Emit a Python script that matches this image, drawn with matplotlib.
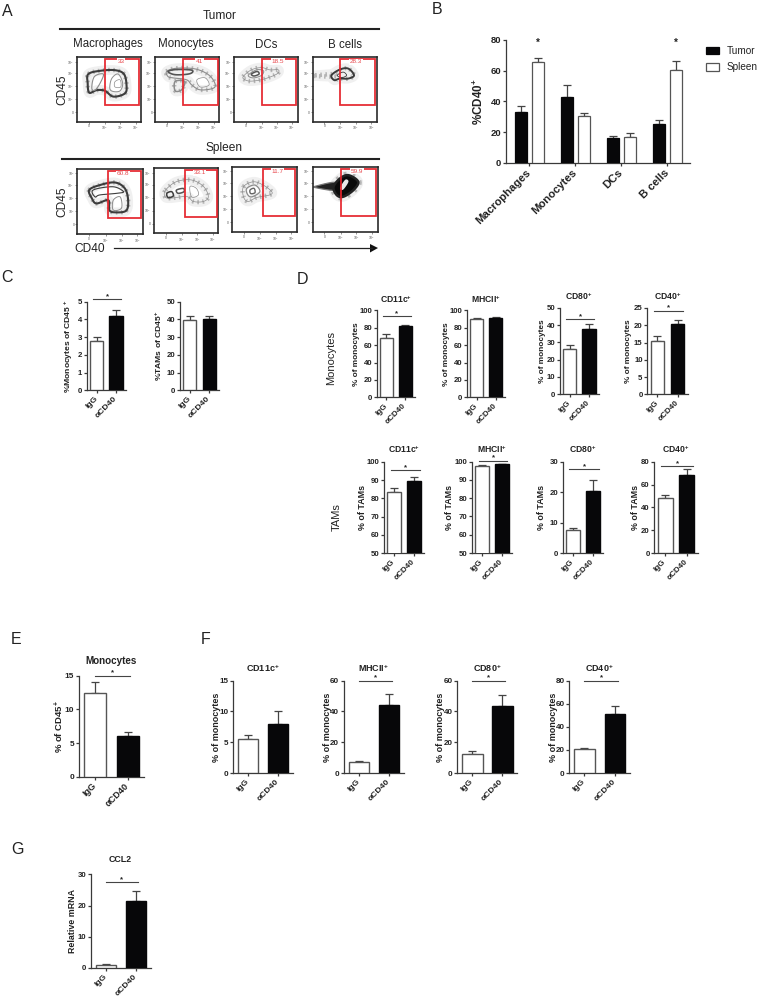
import matplotlib
matplotlib.use("Agg")
import matplotlib.pyplot as plt
from matplotlib.patches import Rectangle, Polygon
import numpy as np

plt.rcParams['font.family'] = ['Liberation Sans', 'DejaVu Sans']
plt.rcParams['mathtext.fontset'] = 'custom'
plt.rcParams['mathtext.rm'] = 'Liberation Sans'
plt.rcParams['mathtext.bf'] = 'Liberation Sans:bold'
plt.rcParams['mathtext.it'] = 'Liberation Sans:italic'

W, H = 757, 1000
fig = plt.figure(figsize=(W/100, H/100), dpi=100, facecolor='white')
AX = '#3a3a3a'
DARK = '#070709'
RED = '#e5232b'
TXT = '#222222'

# ---------- data ----------
groups = ['Macrophages', 'Monocytes', 'DCs', 'B cells']
tumor_vals = [33, 43, 16, 25.5]
tumor_tops = [37, 50.5, 17.5, 28]
spleen_vals = [65.5, 30.5, 16.5, 60.5]
spleen_tops = [68, 32.5, 19.5, 66.5]
pair = ['IgG', '\u03b1CD40']

c_mono = ([2.8, 4.2], [3.0, 4.55])
c_tam = ([39.5, 40], [41.7, 42])
d_mono_cd11c = ([68, 81.5], [72.5, 83.5])
d_mono_mhc = ([90, 91.5], [91.5, 92.5])
d_mono_cd80 = ([26, 37.8], [28.5, 40.5])
d_mono_cd40 = ([15.5, 20.5], [16.8, 21.6])
d_tam_cd11c = ([83.3, 89.5], [85.8, 91.5])
d_tam_mhc = ([97.8, 98.5], [98.3, 99])
d_tam_cd80 = ([7.7, 20.3], [8.2, 24])
d_tam_cd40 = ([48.5, 68.5], [51, 73.5])
e_mono = ([12.5, 6], [14, 6.7])
f_cd11c = ([5.6, 7.9], [6.1, 10])
f_mhc = ([7.3, 44.5], [8, 51.5])
f_cd80 = ([12.5, 43.7], [14, 51])
f_cd40 = ([20.5, 51.5], [21.5, 58])
g_ccl2 = ([1, 21.5], [1.2, 24.5])

gate_labels_tumor = ['33', '41', '18.5', '28.3']
gate_labels_spleen = ['60.8', '33.1', '11.7', '59.9']

# contour outlines in percent of each flow plot: (points, colour, width)
GR = '#8c8c8c'; DG = '#3c3c3c'
t1_outer = [(17.6,74),(35.8,79),(59,80),(73,74),(77,57),(74.6,44),(56.5,39),(43.5,48),(30.6,49),(19,45),(16.6,60)]
t1_left = [(23,52),(27,70),(41,74),(36,60),(28,49)]
t1_right = [(51,52),(54,67),(64,74),(71,60),(67,48),(56,47)]
t1_core = [(59,62),(67,65),(68,54),(59,54)]
t2_band = [(17.7,78),(33,83),(62,82),(83,73),(93,60),(90.6,52),(70,49.5),(57,57),(49,65),(28,68),(20,70)]
t2_lobe = [(31,62.5),(46,62.5),(41,49.5),(31,48)]
t2_dark = [(20,78),(33,81),(57,80),(54,74.5),(31,73)]
t2_right = [(65,65),(78,68),(84,57),(70,54)]
t3_outer = [(14,70),(27,80.5),(43,84),(56,80.5),(69.5,80.5),(67,74),(46,66),(27,63),(17,65)]
t3_mid = [(22,72),(35,80.5),(46,79),(43,72),(30,68)]
t3_core = [(27,74),(36,78),(39,74),(31,71)]
t4_outer = [(29,72),(42,81),(55,82.5),(64,72),(55,67),(42,67),(33.5,64.5)]
t4_core = [(38,72),(47,77),(52.5,72),(45,68.5)]
t4_streak = [(4,72),(35,74),(35,70),(4,71)]
s1_outer = [(18,67.5),(34,75),(57,79),(72,70),(77,52),(74,36),(57,33.5),(48.5,37),(47,52),(29,47),(22,55)]
s1_mid = [(24,67.5),(54,72.5),(70,65),(60,62.5),(34,60),(27,57)]
s1_low = [(54.5,52),(65,57),(67,40),(54.5,37)]
s2_outer = [(18,66.5),(35,79.5),(58.5,82),(77,72),(84.5,56.5),(77,49),(61,49),(51,56.5),(25,54),(17,56.5)]
s2_a = [(20,61.5),(27.5,64),(30,57.5),(22,55)]
s2_b = [(35,66.5),(45.5,69),(46.5,64),(37.5,61.5)]
s2_c = [(56,72),(66,69),(69,59),(58.5,56)]
s3_outer = [(18,69.5),(33,77),(48,72),(61,62),(58,57),(38,53),(25,47),(18,54)]
s3_mid = [(23,67),(35.5,72),(43,62),(30.5,54),(24,58)]
s3_core = [(28,64.5),(34,67),(35.5,60.5),(29,59)]
s4_outer = [(32,69),(42,82),(55,87),(70,77),(62.5,64),(47,54),(37,56.5)]
s4_eye = [(42,67),(50,80),(55,77),(47,65)]
s4_streak = [(4,70),(34,76),(34,64),(4,68)]

flow_tumor = [
    [(t1_outer, DG, 1.5), (t1_left, GR, .8), (t1_right, GR, .7), (t1_core, GR, .5)],
    [(t2_band, GR, .8), (t2_lobe, GR, 1.1), (t2_dark, '#555555', 1.2), (t2_right, GR, .5)],
    [(t3_outer, GR, .5), (t3_mid, GR, .7), (t3_core, '#555555', 1.1)],
    [(t4_outer, DG, 1.4), (t4_core, DG, .6)],
]
flow_spleen = [
    [(s1_outer, DG, 1.5), (s1_mid, DG, .8), (s1_low, GR, .7)],
    [(s2_outer, GR, .5), (s2_a, DG, 1.1), (s2_b, '#555555', 1.1), (s2_c, GR, .5)],
    [(s3_outer, GR, .5), (s3_mid, GR, .9), (s3_core, '#666666', 1.0)],
    [],
]
halos_tumor = [[t1_outer], [t2_band, t2_lobe], [t3_outer], [t4_outer, t4_streak]]
halos_spleen = [[s1_outer], [s2_outer], [s3_outer], [s4_outer]]

def px_ax(x0, x1, ybot, ytop):
    return fig.add_axes([x0/W, 1-ybot/H, (x1-x0)/W, (ybot-ytop)/H])

def ftext(x, y, s, **kw):
    kw.setdefault('ha', 'center'); kw.setdefault('va', 'center'); kw.setdefault('color', TXT)
    return fig.text(x/W, 1-y/H, s, **kw)

def smooth(pts, n=8):
    """Closed Catmull-Rom curve through the traced outline points."""
    p = np.asarray(pts, float)
    out = []
    m = len(p)
    for i in range(m):
        a, b, c, d = p[(i-1) % m], p[i], p[(i+1) % m], p[(i+2) % m]
        for t in np.linspace(0, 1, n, endpoint=False):
            out.append(.5*((2*b) + (c-a)*t + (2*a-5*b+4*c-d)*t*t + (3*b-a-3*c+d)*t**3))
    return np.array(out)

def flow(box, gate, contours, halos, label, black=False):
    x0, x1, yb, yt = box
    ax = px_ax(x0, x1, yb, yt)
    ax.set_xlim(0, 100); ax.set_ylim(0, 100)
    for s in ax.spines.values():
        s.set_linewidth(1.2); s.set_color('#2a2a2a')
    ax.set_xticks([18, 43, 67, 91]); ax.set_yticks([15, 35, 55, 75, 93])
    ax.set_xticklabels(['0', '10$^3$', '10$^4$', '10$^5$'], fontsize=2.4, color='#555555')
    ax.set_yticklabels(['0', '10$^2$', '10$^3$', '10$^4$', '10$^5$'], fontsize=2.4, color='#555555')
    ax.tick_params(length=1.2, width=.4, pad=.8, color='#444444')
    for h in halos:
        ax.add_patch(Polygon(smooth(h), closed=True, fill=False, ec='#f0f0f0', lw=7, zorder=1))
        ax.add_patch(Polygon(smooth(h), closed=True, fill=False, ec='#b5b5b5', lw=3.2 if not black else 5, ls=(0, (.35, .8)), zorder=1))
    if black:
        ax.add_patch(Polygon(smooth(s4_streak), closed=True, fc='#222222', ec='#777777', lw=.9, zorder=2))
        ax.add_patch(Polygon(smooth(s4_outer), closed=True, fc='#0a0a0a', ec='#222222', lw=1.8, zorder=2))
        ax.add_patch(Polygon(smooth(s4_eye), closed=True, fc='#e8e8e8', ec='none', zorder=3))
    for pts, col, lw in contours:
        ax.add_patch(Polygon(smooth(pts), closed=True, fill=False, ec=col, lw=lw, zorder=3))
    gx0, gx1, gy0, gy1 = gate
    ax.add_patch(Rectangle((gx0, gy0), gx1-gx0, gy1-gy0, fill=False, ec=RED, lw=1.3, zorder=5, alpha=.95))
    ax.text((gx0+gx1)/2 - 2, gy1-4, label, color='#e8474c', fontsize=4.6, ha='center', va='center', zorder=6,
            bbox=dict(fc='white', ec='none', pad=.4))

tumor_boxes = [(77,141.3,121.7,57.3), (155.3,219.3,121.7,57.3), (234.3,297.7,121.7,57.3), (312.7,377.3,121.7,57.3)]
tumor_gates = [(44,97,26,98), (44,98,26,98), (44,98,26,98), (42,96,26,97)]
spleen_boxes = [(77.3,143.3,234.3,168.7), (154,218.3,233.3,168.3), (231.7,297.3,232.3,166.7), (312.7,377.7,232,166.7)]
spleen_gates = [(46,97,25,96), (48,98,25,97), (47,97,25,97), (43,97,24,97)]

for i in range(4):
    flow(tumor_boxes[i], tumor_gates[i], flow_tumor[i], halos_tumor[i], gate_labels_tumor[i])
    flow(spleen_boxes[i], spleen_gates[i], flow_spleen[i], halos_spleen[i], gate_labels_spleen[i], black=(i == 3))

# figure-level decoration for panel A
fig.add_artist(plt.Line2D([60/W, 379/W], [1-29/H, 1-29/H], color='#222222', lw=1.5))
fig.add_artist(plt.Line2D([62/W, 379/W], [1-159/H, 1-159/H], color='#222222', lw=1.5))
ftext(220, 16, 'Tumor', fontsize=8.6)
ftext(224.5, 148.5, 'Spleen', fontsize=8.6)
for x, s in zip([108, 186, 266, 344.5], groups):
    ftext(x, 44.5, s, fontsize=8.3)
ftext(62, 90, 'CD45', fontsize=8.6, rotation=90)
ftext(62, 202, 'CD45', fontsize=8.6, rotation=90)
ftext(89.5, 249.5, 'CD40', fontsize=8.6)
fig.add_artist(plt.Line2D([114/W, 372/W], [1-248/H, 1-248/H], color='#222222', lw=.9))
fig.add_artist(Polygon([[370/W, 1-244/H], [378/W, 1-248/H], [370/W, 1-252.5/H]], closed=True, fc='#111111', ec='none', transform=fig.transFigure))

for (x, y, s) in [(7, 11, 'A'), (437, 10, 'B'), (7, 278, 'C'), (302, 280, 'D'), (16, 639, 'E'), (206, 639, 'F'), (17, 850, 'G')]:
    ftext(x, y, s, fontsize=11.5)
ftext(331, 358, 'Monocytes', fontsize=8, rotation=90)
ftext(337, 517, 'TAMs', fontsize=8, rotation=90)

def style(ax, ticks, fs, lw=.9):
    for s in ['top', 'right']:
        ax.spines[s].set_visible(False)
    for s in ['left', 'bottom']:
        ax.spines[s].set_linewidth(lw); ax.spines[s].set_color(AX)
    ax.set_yticks(ticks)
    ax.tick_params(axis='both', length=2.2, width=lw, color=AX, pad=1.2, labelsize=fs)
    for t in ax.get_yticklabels():
        t.set_fontweight('bold'); t.set_color(TXT)

def pair_panel(box, data, ylim, ticks, ylabel, label_x, sig=None, sig_x=(-.17, 1.28), fs=5.6, lfs=5.95, xfs=5.9):
    x0, x1, yb, yt = box
    ax = px_ax(x0, x1, yb, yt)
    ax.patch.set_alpha(0)
    vals, tops = data
    ax.set_xlim(-.5, 1.5); ax.set_ylim(*ylim)
    err = [np.zeros(2), np.array(tops)-np.array(vals)]
    ax.bar([0, 1], vals, width=.68, color=['white', DARK], edgecolor=['#555555', DARK], linewidth=1.0, zorder=3)
    ax.errorbar([0, 1], vals, yerr=err, fmt='none', ecolor='#444444', elinewidth=.9, capsize=2.8, capthick=.9, zorder=2)
    style(ax, ticks, fs)
    ax.set_xticks([0, 1])
    ax.set_xticklabels(pair, rotation=45, ha='right', va='center', rotation_mode='anchor', fontsize=xfs, fontweight='bold', color=TXT)
    ax.tick_params(axis='x', pad=3.2)
    ax.set_ylabel(ylabel, fontsize=lfs, fontweight='bold', color=TXT, va='center')
    ax.yaxis.set_label_coords((label_x-x0)/(x1-x0), .5)
    if sig is not None:
        ax.plot(sig_x, [sig, sig], color='#444444', lw=.8, clip_on=False, zorder=4)
        ax.annotate('*', xy=(sum(sig_x)/2, sig), xytext=(0, -.6), textcoords='offset points', ha='center', va='bottom',
                    fontsize=5.6, fontweight='bold', color=TXT, annotation_clip=False)
    return ax

# ---------- B ----------
axb = px_ax(506, 690, 162.7, 40)
x = np.arange(4)
axb.set_xlim(-.51, 3.49); axb.set_ylim(0, 80)
axb.bar(x-.185, tumor_vals, width=.26, color=DARK, edgecolor=DARK, lw=.9, zorder=3, label='Tumor')
axb.bar(x+.185, spleen_vals, width=.26, color='white', edgecolor='#555555', lw=.9, zorder=3, label='Spleen')
for xs, v, t in [(x-.185, tumor_vals, tumor_tops), (x+.185, spleen_vals, spleen_tops)]:
    axb.errorbar(xs, v, yerr=[np.zeros(4), np.array(t)-np.array(v)], fmt='none', ecolor='#444444', elinewidth=.9, capsize=3, capthick=.9, zorder=2)
style(axb, [0, 20, 40, 60, 80], 6.8)
axb.set_xticks(x)
axb.set_xticklabels(groups, rotation=45, ha='right', va='center', rotation_mode='anchor', fontsize=8.1, fontweight='bold', color=TXT)
axb.tick_params(axis='x', pad=4)
axb.set_ylabel('%CD40$^{\\mathbf{+}}$', fontsize=8.4, fontweight='bold', color=TXT, labelpad=3)
for gi in [0, 3]:
    axb.annotate('*', xy=(gi+.185, 75), ha='center', va='bottom', fontsize=7, fontweight='bold', color=TXT, annotation_clip=False)
fig.legend(*axb.get_legend_handles_labels(), loc='upper left', bbox_to_anchor=(699/W, 1-39/H), frameon=False, fontsize=7.2,
           handlelength=1.3, handleheight=.8, labelspacing=.62, handletextpad=.75, borderpad=.2, labelcolor=TXT)

sup = '$^{\\mathbf{+}}$'
# ---------- C ----------
pair_panel((86.7,126,390.3,301.7), c_mono, (0,5), [0,1,2,3,4,5], '%Monocytes of CD45 '+sup, 69.3, sig=5.15, sig_x=(-.16,1.26), lfs=6.1, xfs=6.1)
pair_panel((180,219,390.3,301.7), c_tam, (0,50), [0,10,20,30,40,50], '%TAMs of CD45'+sup, 159.3, lfs=6.1, xfs=6.1)

# ---------- D ----------
mono_lab = '% of monocytes'; tam_lab = '% of TAMs'
pair_panel((376.7,414.7,397.3,310.3), d_mono_cd11c, (0,100), [0,20,40,60,80,100], mono_lab, 356, sig=93.5)
pair_panel((467,505,397.3,310.3), d_mono_mhc, (0,100), [0,20,40,60,80,100], mono_lab, 446.7)
pair_panel((560,598.7,394.3,307.7), d_mono_cd80, (0,50), [0,10,20,30,40,50], mono_lab, 542.7, sig=43.3)
pair_panel((647.3,687.7,394.3,308), d_mono_cd40, (0,25), [0,5,10,15,20,25], mono_lab, 628, sig=24.2)
pair_panel((384,424,553.3,461.7), d_tam_cd11c, (50,100), [50,60,70,80,90,100], tam_lab, 362.7, sig=95.5, lfs=6.4)
pair_panel((472.3,511.7,553,461.7), d_tam_mhc, (50,100), [50,60,70,80,90,100], tam_lab, 449.3, sig=100.5, lfs=6.4)
pair_panel((562.7,603.3,553.3,461.7), d_tam_cd80, (0,30), [0,10,20,30], tam_lab, 541.7, sig=27.6, lfs=6.4)
pair_panel((654.3,697.7,553,461.7), d_tam_cd40, (0,80), [0,20,40,60,80], tam_lab, 635, sig=76, lfs=6.4)

for x_, y_, s in [(396,299,'CD11c'), (486,299,'MHCII'), (579,296,'CD80'), (668,296,'CD40'),
                  (404,449,'CD11c'), (492,449,'MHCII'), (583,449,'CD80'), (676,449,'CD40')]:
    ftext(x_, y_, s+sup, fontsize=6.2, fontweight='bold')

# ---------- E ----------
pair_panel((78.7,144,776.7,675.7), e_mono, (0,15), [0,5,10,15], '% of CD45'+sup, 59, sig=15, sig_x=(0,1.08), fs=6, lfs=6.8, xfs=6.6)
ftext(111, 661, 'Monocytes', fontsize=7.1, fontweight='bold')

# ---------- F ----------
f_kw = dict(fs=5.8, lfs=6.5, xfs=6.1)
pair_panel((233.3,293,773,680.7), f_cd11c, (0,15), [0,5,10,15], mono_lab, 216.7, **f_kw)
pair_panel((343.7,404,773,680.7), f_mhc, (0,60), [0,20,40,60], mono_lab, 327.3, sig=60, sig_x=(0,1.09), **f_kw)
pair_panel((457.3,517.3,773,680.7), f_cd80, (0,60), [0,20,40,60], mono_lab, 440.7, sig=60, sig_x=(0,1.09), **f_kw)
pair_panel((569.3,630,773,680.7), f_cd40, (0,80), [0,20,40,60,80], mono_lab, 553, sig=80, sig_x=(0,1.09), **f_kw)
for x_, s in [(263,'CD11c'), (374,'MHCII'), (487.5,'CD80'), (599.5,'CD40')]:
    ftext(x_, 668, s+sup, fontsize=6.5, fontweight='bold')

# ---------- G ----------
pair_panel((90.7,150.7,968,874.3), g_ccl2, (0,30), [0,10,20,30], 'Relative mRNA', 72.3, sig=27.4, sig_x=(0,1.08), lfs=6.4, xfs=6.1)
ftext(120, 860, 'CCL2', fontsize=6.4, fontweight='bold')

fig.savefig('out.png', dpi=100, facecolor='white')
